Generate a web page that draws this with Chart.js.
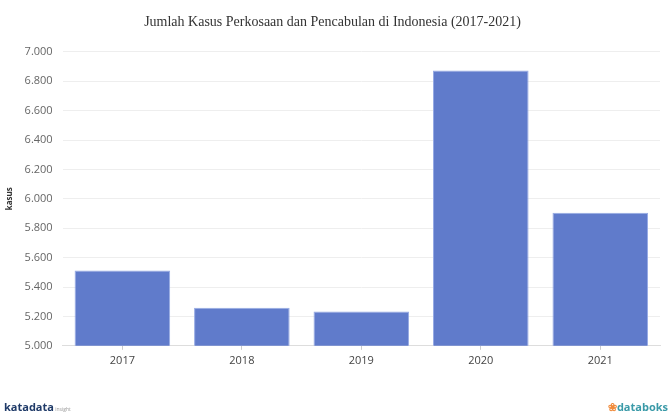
<!DOCTYPE html>
<html>
<head>
    <title>Jumlah Kasus Perkosaan dan Pencabulan</title>
    <script src="https://cdn.jsdelivr.net/npm/chart.js"></script>
    <style>
        body { margin: 0; background: #fff; }
        #wrap { position: relative; width: 670px; height: 414px; }
        .logo { position: absolute; bottom: 0px; font-family: 'Open Sans', sans-serif; font-size: 11px; font-weight: bold; }
        #kata { left: 4px; color: #1f3a68; }
        #boks { right: 2px; color: #3a9aa8; }
        #boks span { color: #f08a3a; }
    </style>
</head>
<body>
<div id="wrap">
    <canvas id="kasusChart" width="670" height="414"></canvas>
    <div class="logo" id="kata">katadata<span style="font-size:5px;color:#999;font-weight:normal"> insight</span></div>
    <div class="logo" id="boks"><span>&#10048;</span>databoks</div>
</div>

<script>
    const years = ['2017', '2018', '2019', '2020', '2021'];
    const kasus = [5513, 5258, 5233, 6872, 5905];
    const yTicks = [5000, 7000, 200]; // min, max, step

    const fmt = v => String(v).replace(/\B(?=(\d{3})+(?!\d))/g, '.');

    const ctx = document.getElementById('kasusChart').getContext('2d');
    const kasusChart = new Chart(ctx, {
        type: 'bar',
        data: {
            labels: years,
            datasets: [{
                label: 'Kasus',
                data: kasus,
                backgroundColor: 'rgb(96, 123, 203)',
                borderColor: 'rgb(150, 170, 228)',
                borderWidth: 1,
                barPercentage: 0.8,
                categoryPercentage: 1
            }]
        },
        options: {
            responsive: false,
            animation: false,
            layout: { padding: { left: 5, right: 10, top: 0, bottom: 43 } },
            plugins: {
                legend: { display: false },
                tooltip: { enabled: false },
                title: {
                    display: true,
                    text: 'Jumlah Kasus Perkosaan dan Pencabulan di Indonesia (2017-2021)',
                    font: { family: 'Liberation Serif', size: 14, weight: 'normal' },
                    color: '#333',
                    padding: { top: 14, bottom: 21 }
                }
            },
            scales: {
                y: {
                    min: yTicks[0],
                    max: yTicks[1],
                    ticks: {
                        stepSize: yTicks[2],
                        callback: v => fmt(v),
                        color: '#666',
                        font: { family: 'Open Sans', size: 11 },
                        padding: 10
                    },
                    grid: { color: '#eeeeee', drawTicks: false },
                    border: { display: false },
                    title: {
                        display: true,
                        text: 'kasus',
                        color: '#333',
                        font: { family: 'Open Sans', size: 8, weight: 'bold' },
                        padding: 0
                    }
                },
                x: {
                    ticks: {
                        color: '#444',
                        font: { family: 'Open Sans', size: 11 },
                        padding: 4
                    },
                    grid: { drawOnChartArea: false, offset: false, tickLength: 4, color: '#ccc' },
                    border: { color: '#ddd' }
                }
            }
        }
    });
</script>
</body>
</html>
